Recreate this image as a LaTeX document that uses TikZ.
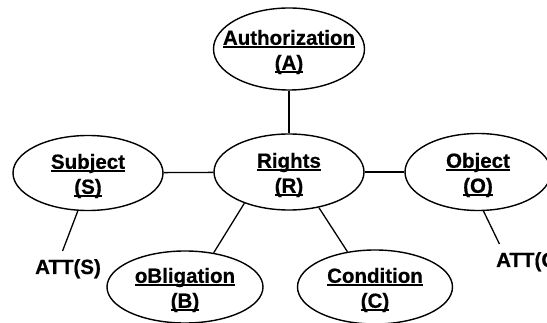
\documentclass[tikz,border=0pt]{standalone}
\usepackage{fontspec}
\setmainfont{Liberation Sans}[BoldFeatures={FakeBold=0.6}]
\usetikzlibrary{shapes.geometric}
% underline drawn just below the baseline, crossing descenders
\newcommand\ulx[1]{\setbox0\hbox{#1}\rlap{\rule[-3pt]{\wd0}{1.5pt}}\box0}
\begin{document}
\begin{tikzpicture}[x=1pt,y=-1pt,
  ent/.style={draw, ellipse, line width=1.4pt, inner sep=0pt},
  lbl/.style={font=\fontsize{20.5}{25}\selectfont\bfseries, align=center, inner sep=0pt, yshift=-3pt},
  att/.style={font=\fontsize{20.5}{25}\selectfont\bfseries, inner xsep=4pt, inner ysep=8pt},
  link/.style={line width=1.3pt}]
\useasboundingbox (0,0) rectangle (547,323);

% entities
\node[ent, minimum width=151pt, minimum height=82pt] (A) at (289,49) {};
\node[lbl] (At) at (A) {\ulx{Authorization}\\\ulx{(A)}};

\node[ent, minimum width=150pt, minimum height=76pt] (R) at (289,172) {};
\node[lbl] (Rt) at (R) {\ulx{Rights}\\\ulx{(R)}};

\node[ent, minimum width=150pt, minimum height=75pt] (S) at (88,173) {};
\node[lbl] (St) at (S) {\ulx{Subject}\\\ulx{(S)}};

\node[ent, minimum width=146pt, minimum height=77pt] (O) at (478,172) {};
\node[lbl] (Ot) at (O) {\ulx{Object}\\\ulx{(O)}};

\node[ent, minimum width=156pt, minimum height=72pt] (B) at (185,287) {};
\node[lbl] (Bt) at (B) {\ulx{oBligation}\\\ulx{(B)}};

\node[ent, minimum width=155pt, minimum height=74pt] (C) at (375,287) {};
\node[lbl] (Ct) at (C) {\ulx{Condition}\\\ulx{(C)}};

% attribute labels
\node[att, anchor=base] (attS) at (68,274) {ATT(S)};
\node[att, anchor=base west] (attO) at (492,267) {ATT(O)};

% connectors
\draw[link] (A) -- (R);
\draw[link] (S) -- (R);
\draw[link] (R) -- (O);
\draw[link] (R.215) -- (B.50);
\draw[link] (R.310) -- (C.128);
\draw[link] (S.255) -- (attS.107);
\draw[link] (O.278) -- (attO.150);
\end{tikzpicture}
\end{document}
